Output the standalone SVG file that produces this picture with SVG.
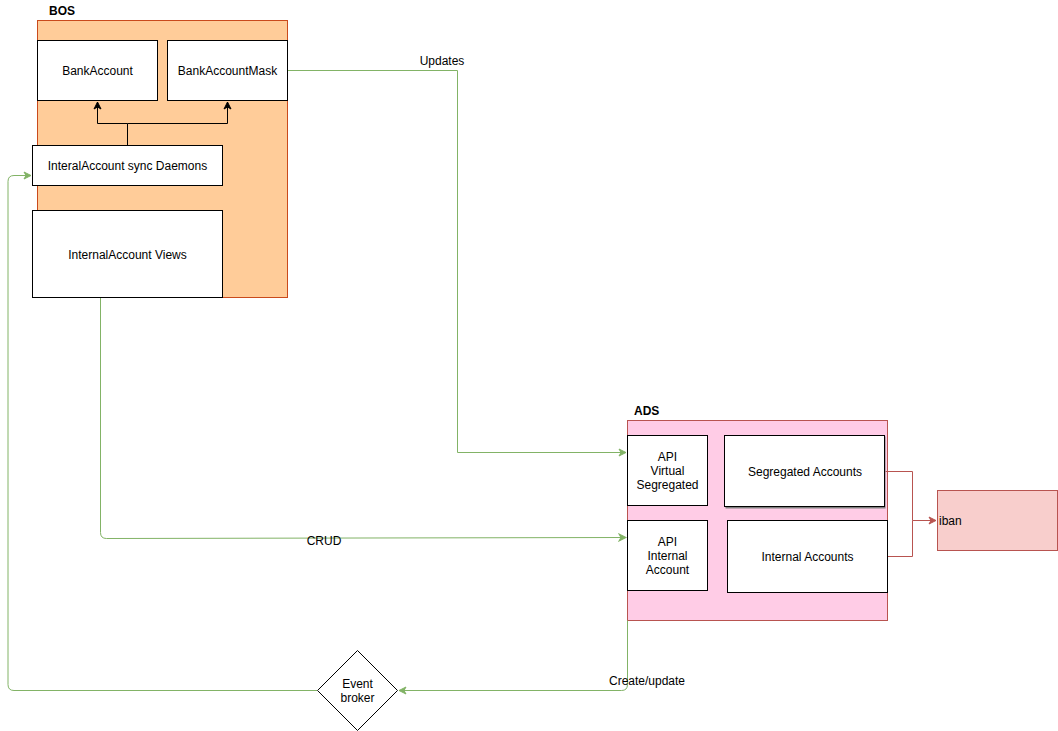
<svg xmlns="http://www.w3.org/2000/svg" width="1058" height="731" viewBox="0 0 1058 731">
<defs>
<style>
.t{font-family:"Liberation Sans",Arial,sans-serif;font-size:12px;fill:#000;}
.c{text-anchor:middle;}
.b{font-weight:bold;}
.box{fill:#fff;stroke:#000;stroke-width:1;}
.g{fill:none;stroke:#82b366;stroke-width:1;}
.r{fill:none;stroke:#b85450;stroke-width:1;}
.k{fill:none;stroke:#000;stroke-width:1;}
</style>
<marker id="ag" markerWidth="10" markerHeight="10" refX="8" refY="5" orient="auto" markerUnits="userSpaceOnUse"><path d="M1,1.5 L8,5 L1,8.5 L3,5 Z" fill="#82b366" stroke="#82b366"/></marker>
<marker id="ar" markerWidth="10" markerHeight="10" refX="8" refY="5" orient="auto" markerUnits="userSpaceOnUse"><path d="M1,1.5 L8,5 L1,8.5 L3,5 Z" fill="#b85450" stroke="#b85450"/></marker>
<marker id="ak" markerWidth="10" markerHeight="10" refX="8" refY="5" orient="auto" markerUnits="userSpaceOnUse"><path d="M1,1.5 L8,5 L1,8.5 L3,5 Z" fill="#000" stroke="#000"/></marker>
</defs>
<rect width="1058" height="731" fill="#fff"/>

<g id="bos">
<rect x="37.5" y="20.5" width="250" height="277" fill="#ffcc99" stroke="#c94a1c"/>
<text class="t b" x="49" y="15">BOS</text>
</g>
<g id="ads">
<rect x="627.5" y="420.5" width="260" height="200" fill="#ffcce6" stroke="#b85450"/>
<text class="t b" x="634" y="415">ADS</text>
</g>

<g id="connectors">
<path class="k" d="M127.5,145.5 V123.5 H97.5 V102" marker-end="url(#ak)"/>
<path class="k" d="M127.5,123.5 H227.5 V102" marker-end="url(#ak)"/>
<path class="g" d="M287.5,70.5 H457.5 V452.5 H626" marker-end="url(#ag)"/>
<text class="t c" x="442" y="65">Updates</text>
<path class="g" d="M100.5,298 V532.5 Q100.5,538.5 106.5,538.5 L626,537.5" marker-end="url(#ag)"/>
<text class="t c" x="324" y="545">CRUD</text>
<path class="g" d="M627.5,620.5 V684.5 Q627.5,690.5 621.5,690.5 H399" marker-end="url(#ag)"/>
<text class="t c" x="647" y="685">Create/update</text>
<path class="g" d="M317,690.5 H14 Q8,690.5 8,684.5 V181.5 Q8,175.5 14,175.5 H31" marker-end="url(#ag)"/>
<path class="r" d="M885.5,471.5 H912.5 V520.5 H936" marker-end="url(#ar)"/>
<path class="r" d="M887.5,556.5 H912.5 V520.5"/>
</g>

<g id="bankaccount">
<rect class="box" x="37.5" y="40.5" width="120" height="60"/>
<text class="t c" x="97.5" y="75">BankAccount</text>
</g>
<g id="bankaccountmask">
<rect class="box" x="167.5" y="40.5" width="120" height="60"/>
<text class="t c" x="227.5" y="75">BankAccountMask</text>
</g>
<g id="daemons">
<rect class="box" x="32.5" y="145.5" width="190" height="40"/>
<text class="t c" x="127.5" y="170">InteralAccount sync Daemons</text>
</g>
<g id="views">
<rect class="box" x="32.5" y="210.5" width="190" height="87"/>
<text class="t c" x="127.5" y="259">InternalAccount Views</text>
</g>

<g id="api-virtual">
<rect class="box" x="627.5" y="435.5" width="80" height="70"/>
<text class="t c" x="667.5" y="461">API</text>
<text class="t c" x="667.5" y="475">Virtual</text>
<text class="t c" x="667.5" y="489">Segregated</text>
</g>
<g id="api-internal">
<rect class="box" x="627.5" y="520.5" width="80" height="70"/>
<text class="t c" x="667.5" y="546">API</text>
<text class="t c" x="667.5" y="560">Internal</text>
<text class="t c" x="667.5" y="574">Account</text>
</g>
<g id="segregated">
<rect x="725.5" y="436.5" width="160" height="72" fill="#808080"/>
<rect class="box" x="724.5" y="435.5" width="160" height="71"/>
<text class="t c" x="805" y="476">Segregated Accounts</text>
</g>
<g id="internal">
<rect class="box" x="727.5" y="520.5" width="160" height="72"/>
<text class="t c" x="807.5" y="561">Internal Accounts</text>
</g>
<g id="iban">
<rect x="937.5" y="490.5" width="120" height="60" fill="#f8cecc" stroke="#b85450"/>
<text class="t" x="939" y="525">iban</text>
</g>
<g id="eventbroker">
<polygon points="357.5,650.5 397.5,690.5 357.5,730.5 317.5,690.5" class="box"/>
<text class="t c" x="357.5" y="688">Event</text>
<text class="t c" x="357.5" y="702">broker</text>
</g>
</svg>
